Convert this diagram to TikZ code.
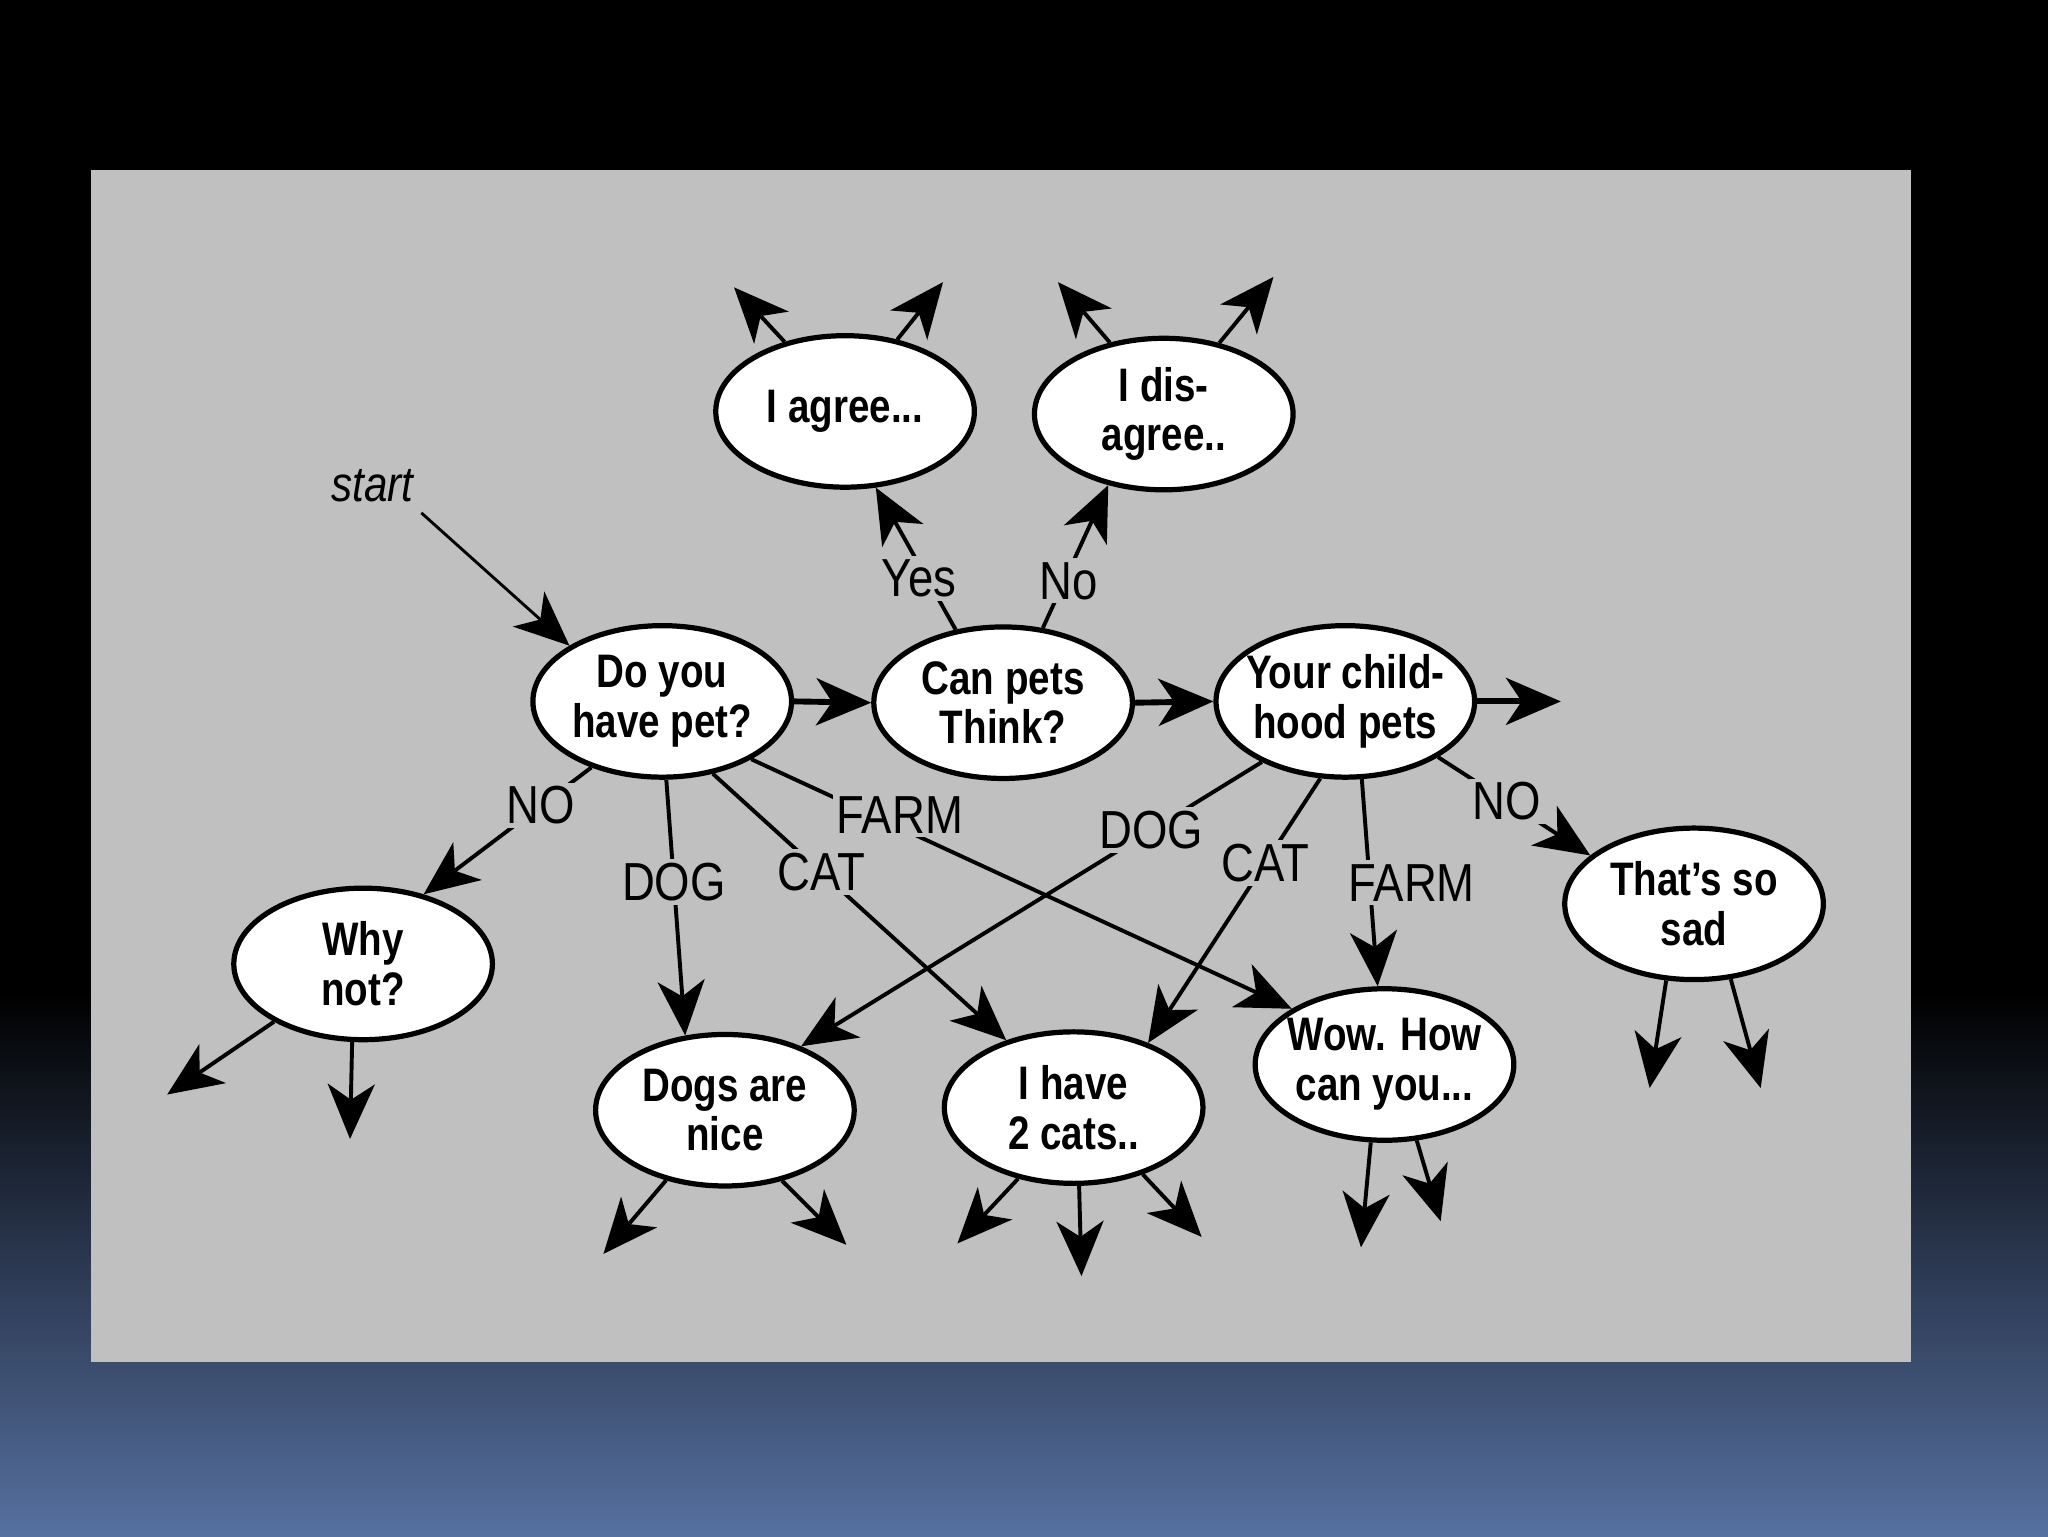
\documentclass[tikz,border=0pt]{standalone}
\usepackage{fontspec}
\usetikzlibrary{shapes.geometric,arrows.meta}
\newfontfamily\bubfont[FakeStretch=0.82]{Liberation Sans}
\newfontfamily\lblfont[FakeStretch=0.85]{Liberation Sans}
\definecolor{panelgray}{RGB}{192,192,192}
\definecolor{bgblue}{RGB}{86,112,160}
\tikzset{
  bubble/.style={ellipse, draw=black, line width=4pt, fill=white, minimum width=198pt, minimum height=116pt, inner sep=0pt},
  bubtxt/.style={font=\bubfont\bfseries\fontsize{36}{38}\selectfont, align=center, inner sep=0pt},
  lbl/.style={font=\lblfont\fontsize{41}{43}\selectfont, fill=panelgray, inner sep=3pt},
  tip/.style={-{Stealth[length=42pt,width=36pt,inset=12pt]}},
  conn/.style={tip, line width=3pt},
  thickconn/.style={tip, line width=4.5pt},
}
\begin{document}
\begin{tikzpicture}[x=1pt,y=-1pt]
\useasboundingbox (0,0) rectangle (1568,1176);
\fill[black] (0,0) rectangle (1568,1176);
\shade[top color=black, bottom color=bgblue] (0,760) rectangle (1568,1176);
\fill[panelgray] (70,130) rectangle (1463,1043);

% bubbles
\node[bubble, label={[bubtxt]center:I agree...}] (agree) at (647,315) {};
\node[bubble, label={[bubtxt]center:I dis-\\agree..}] (disagree) at (891,317) {};
\node[bubble, label={[bubtxt]center:Do you\\have pet?}] (dopet) at (507,537) {};
\node[bubble, label={[bubtxt]center:Can pets\\Think?}] (think) at (768,538) {};
\node[bubble, label={[bubtxt]center:Your child-\\hood pets}] (child) at (1030,537) {};
\node[bubble, label={[bubtxt]center:Why\\not?}] (whynot) at (278,738) {};
\node[bubble, label={[bubtxt]center:That’s so\\sad}] (sad) at (1297,692) {};
\node[bubble, label={[bubtxt]center:Dogs are\\nice}] (dogs) at (555,850) {};
\node[bubble, label={[bubtxt]center:I have\\2 cats..}] (cats) at (822,848) {};
\node[bubble, label={[bubtxt]center:Wow. How\\can you...}] (wow) at (1060,815) {};

\node[font=\lblfont\itshape\fontsize{38}{40}\selectfont, inner sep=2pt] (start) at (285,372) {start};

% free ends
\coordinate (a1) at (562,220); \coordinate (a2) at (722,216);
\coordinate (d1) at (810,216); \coordinate (d2) at (975,212);
\coordinate (co) at (1195,537);
\coordinate (w1) at (128,838); \coordinate (w2) at (268,872);
\coordinate (g1) at (462,960); \coordinate (g2) at (648,953);
\coordinate (c1) at (733,952); \coordinate (c2) at (828,977); \coordinate (c3) at (920,947);
\coordinate (o1) at (1042,955); \coordinate (o2) at (1103,935);
\coordinate (s1) at (1263,833); \coordinate (s2) at (1348,833);

% main chain
\draw[tip, line width=2.2pt] ([xshift=4pt,yshift=-6pt]start.south east) -- (dopet.149);
\draw[thickconn] (dopet.east) -- (think.west);
\draw[thickconn] (think.east) -- (child.west);
\draw[thickconn] (child.east) -- (co);

% think branches
\draw[conn] (think.123) -- node[lbl, pos=0.36, xshift=-6pt] {Yes} (agree.292);
\draw[conn] (think.62) -- node[lbl, pos=0.33, xshift=3pt] {No} (disagree.232);

% dopet branches
\draw[conn] (dopet.223) -- node[lbl, pos=0.3] {NO} (whynot.49);
\draw[conn] (dopet.273) -- node[lbl, pos=0.4] {DOG} (dogs.118);
\draw[conn] (dopet.305) -- node[lbl, pos=0.37] {CAT} (cats.135);
\draw[conn] (dopet.327) -- node[lbl, pos=0.27, yshift=9pt, xshift=2pt] {FARM} (wow.149);

% child branches
\draw[conn] (child.216) -- node[lbl, pos=0.24] {DOG} (dogs.40);
\draw[conn] (child.252) -- node[lbl, pos=0.32] {CAT} (cats.41.6);
\draw[conn] (child.282) -- node[lbl, pos=0.5, xshift=32pt] {FARM} (wow.95);
\draw[conn] (child.329) -- node[lbl, pos=0.45] {NO} (sad.155);

% outgoing arrows
\draw[conn] (agree.131) -- (a1);
\draw[conn] (agree.54) -- (a2);
\draw[conn] (disagree.127) -- (d1);
\draw[conn] (disagree.52) -- (d2);
\draw[conn] (whynot.213) -- (w1);
\draw[conn] (whynot.262) -- (w2);
\draw[conn] (dogs.230) -- (g1);
\draw[conn] (dogs.309) -- (g2);
\draw[conn] (cats.232) -- (c1);
\draw[conn] (cats.274) -- (c2);
\draw[conn] (cats.316) -- (c3);
\draw[conn] (wow.260) -- (o1);
\draw[conn] (wow.293) -- (o2);
\draw[conn] (sad.250) -- (s1);
\draw[conn] (sad.296) -- (s2);
\end{tikzpicture}
\end{document}
